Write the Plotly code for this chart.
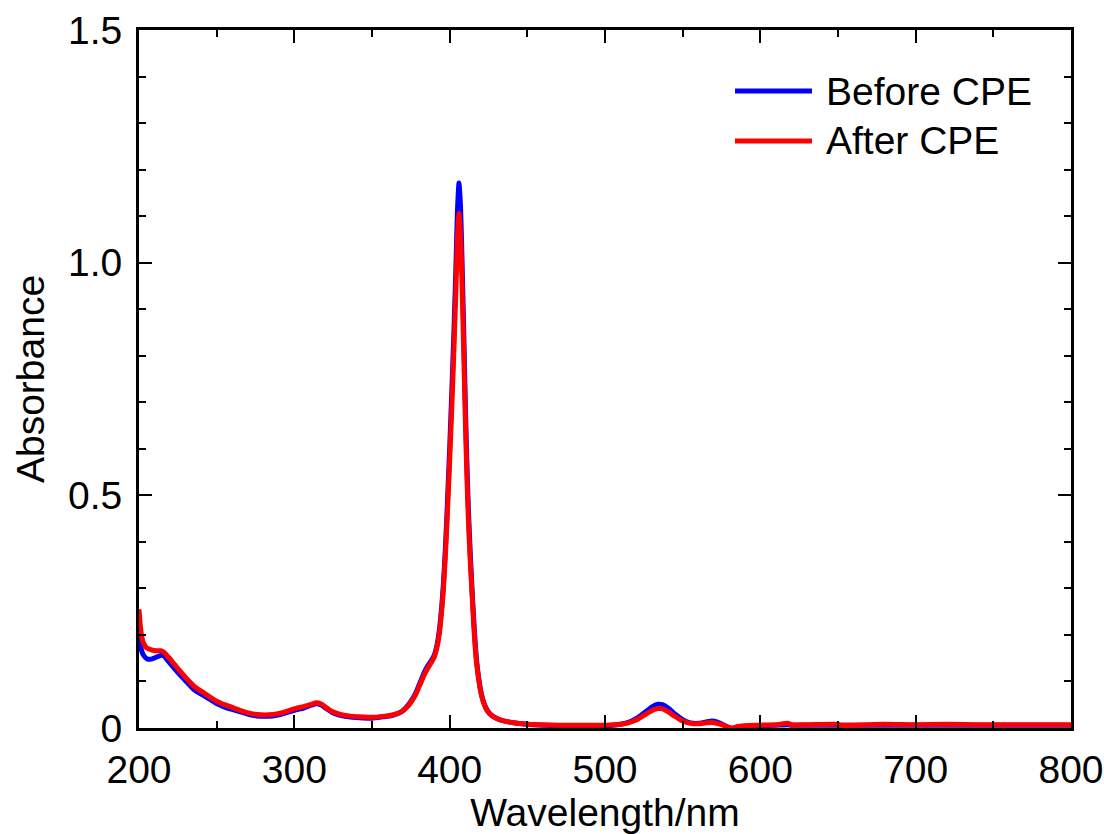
import plotly.graph_objects as go

wavelength = [200, 201, 202, 203, 205, 208, 211, 214, 216, 219, 223, 227, 231, 236, 241, 246,
              251, 256, 261, 266, 271, 276, 281, 286, 291, 296, 301, 306, 311, 314, 317, 320,
              324, 329, 335, 342, 350, 357, 363, 366, 369, 372, 375, 378, 381, 384, 386, 388,
              390, 391, 392, 393, 394, 395, 396, 397, 398, 399, 400, 401, 402, 403, 404, 405,
              406, 407, 408, 409, 410, 411, 412, 413, 414, 415, 416, 417, 418, 419, 420, 421,
              422, 424, 427, 430, 433, 440, 450, 460, 470, 480, 490, 500, 505, 510, 515, 520,
              525, 530, 534, 537, 541, 545, 550, 555, 560, 565, 569, 572, 576, 580, 582, 585,
              590, 600, 610, 618, 620, 630, 650, 652, 680, 700, 720, 740, 760, 780, 800]

before_cpe = [0.210, 0.178, 0.163, 0.156, 0.149, 0.148, 0.152, 0.156, 0.155, 0.143, 0.127, 0.112,
              0.098, 0.081, 0.071, 0.061, 0.051, 0.044, 0.039, 0.034, 0.029, 0.026, 0.025, 0.026,
              0.029, 0.034, 0.039, 0.043, 0.049, 0.052, 0.050, 0.043, 0.034, 0.028, 0.024, 0.022,
              0.021, 0.024, 0.027, 0.030, 0.035, 0.044, 0.057, 0.074, 0.098, 0.122, 0.134, 0.144,
              0.156, 0.166, 0.181, 0.201, 0.230, 0.266, 0.311, 0.371, 0.441, 0.520, 0.602, 0.690,
              0.780, 0.880, 0.990, 1.110, 1.171, 1.120, 1.000, 0.860, 0.710, 0.580, 0.475, 0.395,
              0.325, 0.262, 0.205, 0.158, 0.125, 0.100, 0.080, 0.065, 0.054, 0.039, 0.027, 0.021,
              0.017, 0.012, 0.008, 0.006, 0.005, 0.005, 0.005, 0.005, 0.006, 0.008, 0.012, 0.020,
              0.032, 0.045, 0.051, 0.050, 0.042, 0.030, 0.018, 0.011, 0.010, 0.013, 0.015, 0.013,
              0.007, 0.000, -0.002, 0.002, 0.004, 0.005, 0.006, 0.007, 0.006, 0.006, 0.006, 0.006,
              0.006, 0.006, 0.006, 0.006, 0.006, 0.006, 0.006]

after_cpe = [0.255, 0.215, 0.193, 0.182, 0.172, 0.168, 0.166, 0.166, 0.163, 0.152, 0.136, 0.120,
             0.105, 0.088, 0.077, 0.066, 0.056, 0.049, 0.043, 0.037, 0.032, 0.029, 0.028, 0.029,
             0.032, 0.037, 0.042, 0.046, 0.051, 0.054, 0.052, 0.045, 0.036, 0.030, 0.026, 0.024,
             0.023, 0.025, 0.028, 0.031, 0.035, 0.043, 0.055, 0.071, 0.094, 0.117, 0.129, 0.140,
             0.152, 0.162, 0.176, 0.195, 0.222, 0.257, 0.300, 0.356, 0.422, 0.496, 0.574, 0.657,
             0.743, 0.838, 0.940, 1.050, 1.106, 1.060, 0.950, 0.815, 0.675, 0.552, 0.452, 0.375,
             0.313, 0.250, 0.195, 0.150, 0.121, 0.097, 0.078, 0.064, 0.053, 0.038, 0.027, 0.021,
             0.017, 0.012, 0.008, 0.007, 0.006, 0.006, 0.006, 0.006, 0.007, 0.008, 0.011, 0.017,
             0.027, 0.037, 0.042, 0.041, 0.034, 0.025, 0.015, 0.010, 0.009, 0.011, 0.012, 0.010,
             0.006, 0.001, 0.000, 0.003, 0.005, 0.006, 0.007, 0.010, 0.007, 0.007, 0.008, 0.006,
             0.008, 0.007, 0.008, 0.007, 0.007, 0.007, 0.007]

series_names = ["Before CPE", "After CPE"]
series_colors = ["#0000FF", "#FF0000"]

x_ticks = [200, 300, 400, 500, 600, 700, 800]
y_ticks = [0, 0.5, 1.0, 1.5]
y_tick_labels = ["0", "0.5", "1.0", "1.5"]

FONT = "Liberation Sans, Arial, sans-serif"
FS = 39

fig = go.Figure()
for name, vals, col in zip(series_names, [before_cpe, after_cpe], series_colors):
    fig.add_trace(go.Scatter(x=wavelength, y=vals, mode="lines", name=name,
                             line=dict(color=col, width=5, shape="spline", smoothing=0.6),
                             showlegend=False))

# legend drawn as paper-space decoration
legend_y = [0.9126, 0.841]
for name, col, ly in zip(series_names, series_colors, legend_y):
    fig.add_shape(type="line", xref="paper", yref="paper", x0=0.6395, x1=0.7221, y0=ly, y1=ly,
                  line=dict(color=col, width=5))
    fig.add_annotation(xref="paper", yref="paper", x=0.735, y=ly, text=name, showarrow=False,
                       xanchor="left", yanchor="middle", font=dict(family=FONT, size=FS, color="black"))

axis_common = dict(showline=True, linewidth=3, linecolor="black", mirror="allticks",
                   ticks="inside", ticklen=13, tickwidth=2, tickcolor="black",
                   showgrid=False, zeroline=False, automargin=False,
                   tickfont=dict(family=FONT, size=FS, color="black"))

fig.update_xaxes(range=[200, 800], tickvals=x_ticks, ticktext=[str(v) for v in x_ticks],
                 minor=dict(ticks="inside", ticklen=7, tickwidth=2, tickcolor="black", dtick=50, tick0=200),
                 title=dict(text="Wavelength/nm", font=dict(family=FONT, size=FS, color="black"), standoff=4),
                 ticklabelstandoff=5, **axis_common)
fig.update_yaxes(range=[0, 1.5], tickvals=y_ticks, ticktext=y_tick_labels,
                 minor=dict(ticks="inside", ticklen=7, tickwidth=2, tickcolor="black", dtick=0.1, tick0=0),
                 title=dict(text="Absorbance", font=dict(family=FONT, size=FS, color="black"), standoff=12),
                 ticklabelstandoff=6, **axis_common)

fig.update_layout(width=1104, height=834, margin=dict(l=139, r=33, t=30, b=106),
                  plot_bgcolor="white", paper_bgcolor="white",
                  font=dict(family=FONT, color="black"))

fig.write_html("out.html")
